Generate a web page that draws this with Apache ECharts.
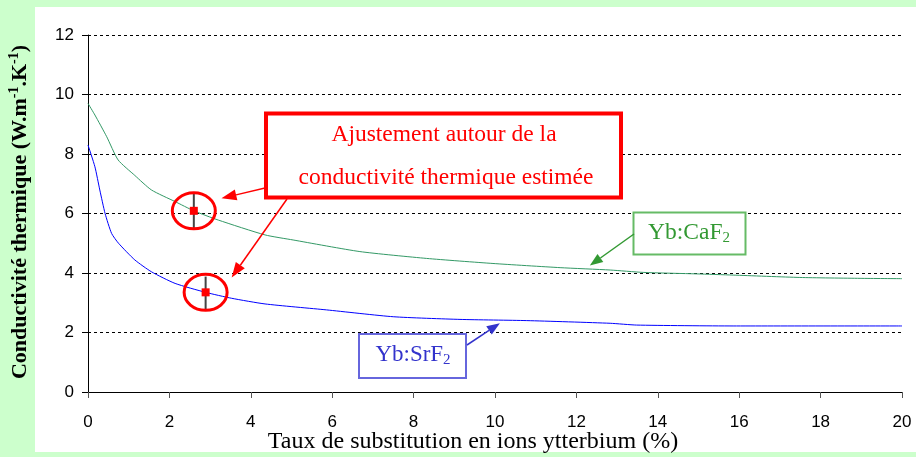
<!DOCTYPE html>
<html>
<head>
<meta charset="utf-8">
<script src="https://cdn.jsdelivr.net/npm/echarts@6/dist/echarts.min.js"></script>
<style>
  html, body { margin: 0; padding: 0; background: #ccffcc; }
  #chart { width: 916px; height: 457px; }
</style>
</head>
<body>
<div id="chart"></div>
<script>
// Thermal conductivity vs. ytterbium substitution rate
const xTicks = [0, 2, 4, 6, 8, 10, 12, 14, 16, 18, 20];
const yTicks = [0, 2, 4, 6, 8, 10, 12];

// Yb:CaF2 curve [% Yb, W/m/K]
const caf2 = [
  [0, 9.70], [0.17, 9.31], [0.46, 8.58], [0.74, 7.80], [1.15, 7.28], [1.56, 6.79],
  [2.14, 6.40], [2.6, 6.09], [3.2, 5.78], [4.35, 5.28], [5.04, 5.11], [6.68, 4.72],
  [8.32, 4.49], [9.95, 4.32], [11.6, 4.18], [12.83, 4.10], [13.64, 4.02],
  [14.96, 3.97], [15.85, 3.93], [17.49, 3.85], [18.97, 3.82], [20, 3.81]
];
// Yb:SrF2 curve [% Yb, W/m/K]
const srf2 = [
  [0, 8.30], [0.17, 7.57], [0.29, 6.79], [0.42, 6.00], [0.58, 5.33], [0.75, 5.00],
  [1.15, 4.44], [1.56, 4.04], [2.14, 3.65], [2.89, 3.35], [3.53, 3.15], [4.35, 2.96],
  [5.86, 2.76], [7.5, 2.53], [9.14, 2.44], [10.78, 2.40], [12.83, 2.31],
  [13.48, 2.25], [15.85, 2.22], [20, 2.22]
];
// Estimated conductivity points: [x, value, low, high]
const estimates = [
  [2.60, 6.09, 5.45, 6.70],
  [2.89, 3.35, 2.76, 3.88]
];

const serif = '"Liberation Serif", "DejaVu Serif", serif';
const sans = '"Liberation Sans", Arial, sans-serif';

const chart = echarts.init(document.getElementById('chart'));

const option = {
  backgroundColor: '#ccffcc',
  animation: false,
  grid: { left: 88, right: 14, top: 35, bottom: 65 },
  xAxis: {
    type: 'value', min: 0, max: 20, interval: 2,
    axisLine: { lineStyle: { color: '#000', width: 1 } },
    axisTick: { show: true, length: 6, lineStyle: { color: '#555' } },
    axisLabel: { color: '#000', fontFamily: sans, fontSize: 17, margin: 22,
      formatter: v => xTicks.includes(v) ? String(v) : '' },
    splitLine: { show: false }
  },
  yAxis: {
    type: 'value', min: 0, max: 12, interval: 2,
    axisLine: { show: true, lineStyle: { color: '#000', width: 1 } },
    axisTick: { show: true, length: 6, lineStyle: { color: '#000' } },
    axisLabel: { color: '#000', fontFamily: sans, fontSize: 17, margin: 14,
      formatter: v => yTicks.includes(v) ? String(v) : '' },
    splitLine: { show: true, lineStyle: { color: '#000', type: [3, 3], width: 1 } }
  },
  series: [
    {
      type: 'line', name: 'Yb:CaF2', data: caf2, showSymbol: false,
      smooth: 0.2,
      lineStyle: { color: '#339966', width: 1 }, z: 3
    },
    {
      type: 'line', name: 'Yb:SrF2', data: srf2, showSymbol: false,
      smooth: 0.2,
      lineStyle: { color: '#0000ff', width: 1 }, z: 3
    },
    {
      type: 'custom', data: estimates, z: 5,
      renderItem: function (params, api) {
        const p = api.coord([api.value(0), api.value(1)]);
        const lo = api.coord([api.value(0), api.value(2)]);
        const hi = api.coord([api.value(0), api.value(3)]);
        return {
          type: 'group',
          children: [
            { type: 'line', shape: { x1: p[0], y1: lo[1], x2: p[0], y2: hi[1] },
              style: { stroke: '#444', lineWidth: 2 } },
            { type: 'ellipse', shape: { cx: p[0], cy: p[1], rx: 21.5, ry: 18 },
              style: { fill: 'none', stroke: '#ff0000', lineWidth: 3 } },
            { type: 'rect', shape: { x: p[0] - 4, y: p[1] - 4, width: 8, height: 8 },
              style: { fill: '#ff0000' } }
          ]
        };
      }
    }
  ]
};

chart.setOption(option);

// Arrow helper: shaft plus filled head
function arrow(from, to, color, width, headLen, headW) {
  const dx = to[0] - from[0], dy = to[1] - from[1];
  const len = Math.hypot(dx, dy);
  const ux = dx / len, uy = dy / len;
  const bx = to[0] - ux * headLen, by = to[1] - uy * headLen;
  const nx = -uy * headW / 2, ny = ux * headW / 2;
  return [
    { type: 'line', shape: { x1: from[0], y1: from[1], x2: bx, y2: by },
      style: { stroke: color, lineWidth: width }, z: 20 },
    { type: 'polygon', shape: { points: [[to[0], to[1]], [bx + nx, by + ny], [bx - nx, by - ny]] },
      style: { fill: color }, z: 20 }
  ];
}

const px = (x, y) => chart.convertToPixel({ gridIndex: 0 }, [x, y]);

const graphics = [
  // white panel behind the chart
  { type: 'rect', shape: { x: 35, y: 7, width: 881, height: 445 },
    style: { fill: '#ffffff' }, z: -10, silent: true },
  // y-axis title
  { type: 'text', x: 20, y: 212, rotation: Math.PI / 2, z: 10,
    style: {
      text: '{a|Conductivité thermique (W.m}{s|-1}{a|.K}{s|-1}{a|)}',
      align: 'center', verticalAlign: 'middle',
      rich: {
        a: { fontFamily: serif, fontSize: 22, fontWeight: 'bold', fill: '#000', lineHeight: 26, verticalAlign: 'middle' },
        s: { fontFamily: serif, fontSize: 14, fontWeight: 'bold', fill: '#000', lineHeight: 14, verticalAlign: 'top' }
      }
    } },
  // x-axis title
  { type: 'text', x: 473, y: 442, z: 10,
    style: { text: 'Taux de substitution en ions ytterbium (%)', fontFamily: serif, fontSize: 24,
      fill: '#000', align: 'center', verticalAlign: 'middle' } },
  // red annotation box
  { type: 'rect', shape: { x: 266, y: 113.5, width: 355, height: 84 }, z: 15,
    style: { fill: '#ffffff', stroke: '#ff0000', lineWidth: 4 } },
  { type: 'text', x: 444, y: 135, z: 16,
    style: { text: 'Ajustement autour de la', fontFamily: serif, fontSize: 23.5, fill: '#ff0000',
      align: 'center', verticalAlign: 'middle' } },
  { type: 'text', x: 446, y: 178, z: 16,
    style: { text: 'conductivité thermique estimée', fontFamily: serif, fontSize: 23.5, fill: '#ff0000',
      align: 'center', verticalAlign: 'middle' } },
  // Yb:CaF2 label
  { type: 'rect', shape: { x: 633.5, y: 212.5, width: 112, height: 42 }, z: 15,
    style: { fill: '#ffffff', stroke: '#66bb66', lineWidth: 2 } },
  { type: 'text', x: 689, y: 233, z: 16,
    style: {
      text: '{a|Yb:CaF}{s|2}', align: 'center', verticalAlign: 'middle',
      rich: {
        a: { fontFamily: serif, fontSize: 23.5, fill: '#339933', lineHeight: 26, verticalAlign: 'middle' },
        s: { fontFamily: serif, fontSize: 15, fill: '#339933', lineHeight: 12, verticalAlign: 'bottom' }
      }
    } },
  // Yb:SrF2 label
  { type: 'rect', shape: { x: 359, y: 334, width: 107, height: 44 }, z: 15,
    style: { fill: '#ffffff', stroke: '#6666dd', lineWidth: 2 } },
  { type: 'text', x: 413, y: 355, z: 16,
    style: {
      text: '{a|Yb:SrF}{s|2}', align: 'center', verticalAlign: 'middle',
      rich: {
        a: { fontFamily: serif, fontSize: 23, fill: '#3333cc', lineHeight: 26, verticalAlign: 'middle' },
        s: { fontFamily: serif, fontSize: 15, fill: '#3333cc', lineHeight: 12, verticalAlign: 'bottom' }
      }
    } }
];

// arrows pointing at the estimates and the curves
graphics.push(...arrow([265, 188], px(3.28, 6.51), '#ff0000', 1.5, 15, 11));
graphics.push(...arrow([287, 199], px(3.53, 3.85), '#ff0000', 1.5, 15, 11));
graphics.push(...arrow([634, 234], px(12.33, 4.25), '#339933', 1.5, 13, 10));
graphics.push(...arrow([467, 345], px(10.12, 2.31), '#3333cc', 1.5, 13, 10));

chart.setOption({ graphic: graphics });
</script>
</body>
</html>
